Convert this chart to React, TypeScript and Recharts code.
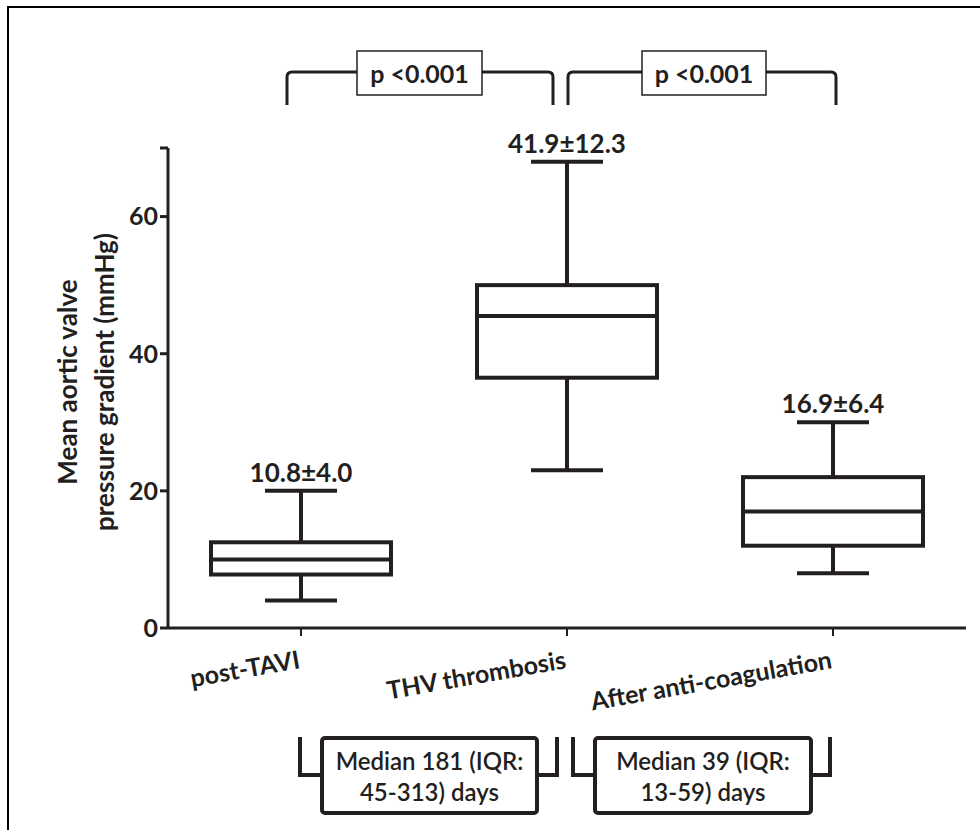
import React from 'react';
import { ComposedChart, Bar, XAxis, YAxis } from 'recharts';

const groups = ['post-TAVI', 'THV thrombosis', 'After anti-coagulation'];
const mins = [4, 23, 8];
const q1s = [7.8, 36.5, 12];
const medians = [10, 45.5, 17];
const q3s = [12.5, 50, 22];
const maxs = [20, 68, 30];
const statLabels = ['10.8±4.0', '41.9±12.3', '16.9±6.4'];
const yTicks = [0, 20, 40, 60, 70];

const data = groups.map((name, i) => ({
  name,
  range: [mins[i], maxs[i]],
  min: mins[i],
  q1: q1s[i],
  median: medians[i],
  q3: q3s[i],
  max: maxs[i],
  label: statLabels[i],
}));

const INK = '#231f20';
const FONT = 'Lato, "Open Sans", sans-serif';

// draws one box + whiskers from the bar's own pixel span (min..max)
const BoxShape = (props: any) => {
  const { x, y, width, height, payload } = props;
  const top = Math.min(y, y + height);
  const bottom = Math.max(y, y + height);
  const { min, max } = payload;
  const pix = (v: number) => bottom - ((v - min) / (max - min)) * (bottom - top);
  const cx = x + width / 2;
  const capHalf = 36;
  return (
    <g stroke={INK} strokeWidth={4} fill="none">
      <line x1={cx} x2={cx} y1={pix(max)} y2={pix(payload.q3)} />
      <line x1={cx} x2={cx} y1={pix(payload.q1)} y2={pix(min)} />
      <line x1={cx - capHalf} x2={cx + capHalf} y1={pix(max)} y2={pix(max)} />
      <line x1={cx - capHalf} x2={cx + capHalf} y1={pix(min)} y2={pix(min)} />
      <rect x={x} y={pix(payload.q3)} width={width} height={pix(payload.q1) - pix(payload.q3)} />
      <line x1={x} x2={x + width} y1={pix(payload.median)} y2={pix(payload.median)} />
      <text
        x={cx}
        y={pix(max) - 9}
        textAnchor="middle"
        stroke="none"
        fill={INK}
        fontFamily={FONT}
        fontWeight={700}
        fontSize={26}
      >
        {payload.label}
      </text>
    </g>
  );
};

const XTick = (props: any) => {
  const { x, y, payload } = props;
  return (
    <g transform={`translate(${x},${y + 30})`}>
      <text
        textAnchor="end"
        transform="rotate(-10)"
        fill={INK}
        fontFamily={FONT}
        fontWeight={700}
        fontSize={25}
      >
        {payload.value}
      </text>
    </g>
  );
};

const TopBracket = ({ x1, x2, bx1, bx2 }: { x1: number; x2: number; bx1: number; bx2: number }) => (
  <g>
    <path
      d={`M${x1},105 L${x1},77 Q${x1},72 ${x1 + 5},72 L${bx1},72 M${bx2},72 L${x2 - 5},72 Q${x2},72 ${x2},77 L${x2},105`}
      stroke={INK}
      strokeWidth={3}
      fill="none"
    />
    <rect x={bx1} y={51} width={bx2 - bx1} height={44} stroke={INK} strokeWidth={1.5} fill="#fff" />
    <text x={(bx1 + bx2) / 2} y={83} textAnchor="middle" fill={INK} fontFamily={FONT} fontWeight={700} fontSize={25}>
      p &lt;0.001
    </text>
  </g>
);

const BottomBracket = ({ x1, x2, bx1, bx2, l1, l2 }: { x1: number; x2: number; bx1: number; bx2: number; l1: string; l2: string }) => (
  <g>
    <path
      d={`M${x1},737 L${x1},775 L${bx1},775 M${bx2},775 L${x2},775 L${x2},737`}
      stroke={INK}
      strokeWidth={4}
      fill="none"
    />
    <rect x={bx1} y={738} width={bx2 - bx1} height={75} rx={3} stroke={INK} strokeWidth={4} fill="#fff" />
    <text textAnchor="middle" fill={INK} fontFamily={FONT} fontWeight={600} fontSize={24}>
      <tspan x={(bx1 + bx2) / 2} y={770}>{l1}</tspan>
      <tspan x={(bx1 + bx2) / 2} y={801}>{l2}</tspan>
    </text>
  </g>
);

export default function App() {
  return (
    <div style={{ position: 'absolute', left: 0, top: 0, width: 980, height: 830, background: '#fff' }}>
      <ComposedChart width={980} height={830} data={data} margin={{ top: 148, right: 14, bottom: 142, left: 108 }}>
        <XAxis
          dataKey="name"
          interval={0}
          height={60}
          axisLine={{ stroke: INK, strokeWidth: 3 }}
          tickLine={{ stroke: INK, strokeWidth: 2 }}
          tickSize={8}
          tick={<XTick />}
        />
        <YAxis
          width={60}
          domain={[0, 70]}
          ticks={yTicks}
          interval={0}
          tickFormatter={(v: number) => (v === 70 ? '' : String(v))}
          axisLine={{ stroke: INK, strokeWidth: 3 }}
          tickLine={{ stroke: INK, strokeWidth: 3 }}
          tickSize={8}
          tick={{ fill: INK, fontFamily: FONT, fontWeight: 700, fontSize: 25 }}
        />
        <Bar dataKey="range" barSize={180} shape={<BoxShape />} isAnimationActive={false} />
      </ComposedChart>
      <svg width={980} height={830} style={{ position: 'absolute', left: 0, top: 0, pointerEvents: 'none' }}>
        <line x1={8} x2={980} y1={7} y2={7} stroke="#000" strokeWidth={2} />
        <line x1={8} x2={8} y1={6} y2={830} stroke="#000" strokeWidth={2} />
        <g fill={INK} fontFamily={FONT} fontWeight={700} fontSize={26} textAnchor="middle">
          <text transform="translate(77,382) rotate(-90)">Mean aortic valve</text>
          <text transform="translate(114,382) rotate(-90)">pressure gradient (mmHg)</text>
        </g>
        <TopBracket x1={287} x2={553} bx1={357} bx2={482} />
        <TopBracket x1={568} x2={836} bx1={642} bx2={766} />
        <BottomBracket x1={300} x2={557} bx1={322} bx2={537} l1="Median 181 (IQR:" l2="45-313) days" />
        <BottomBracket x1={573} x2={830} bx1={595} bx2={811} l1="Median 39 (IQR:" l2="13-59) days" />
      </svg>
    </div>
  );
}
